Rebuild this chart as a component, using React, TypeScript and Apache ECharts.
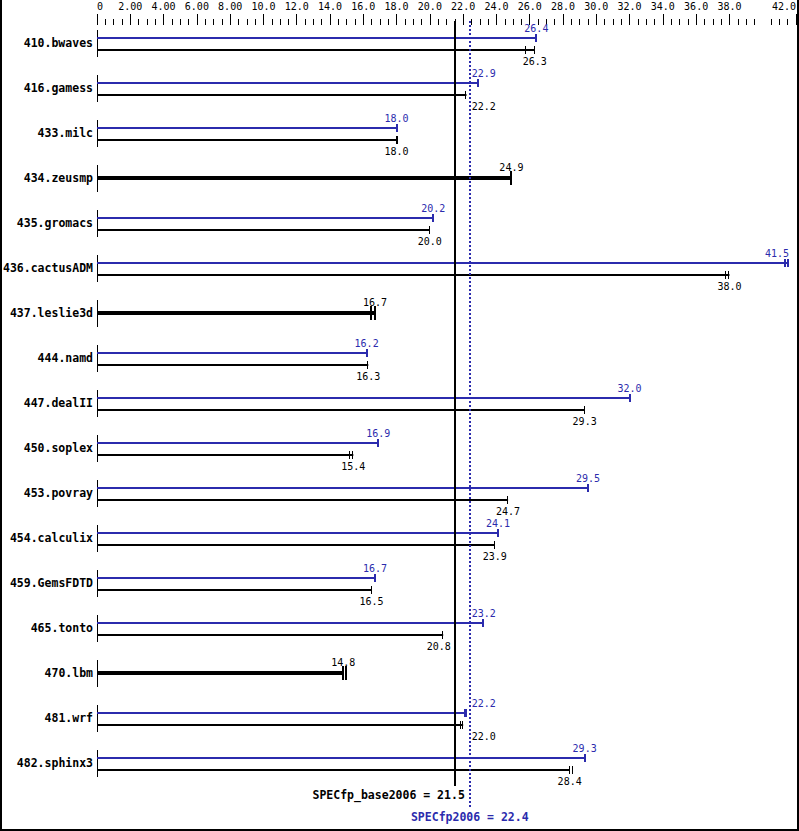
import React, { useEffect, useRef } from 'react';
import * as echarts from 'echarts';

const benchmarks = [
  '410.bwaves', '416.gamess', '433.milc', '434.zeusmp', '435.gromacs', '436.cactusADM',
  '437.leslie3d', '444.namd', '447.dealII', '450.soplex', '453.povray', '454.calculix',
  '459.GemsFDTD', '465.tonto', '470.lbm', '481.wrf', '482.sphinx3',
];
// peak (blue) ratios; null = no peak run (base only)
const peakScores = [26.4, 22.9, 18.0, null, 20.2, 41.5, null, 16.2, 32.0, 16.9, 29.5, 24.1, 16.7, 23.2, null, 22.2, 29.3];
// base (black) ratios
const baseScores = [26.3, 22.2, 18.0, 24.9, 20.0, 38.0, 16.7, 16.3, 29.3, 15.4, 24.7, 23.9, 16.5, 20.8, 14.8, 22.0, 28.4];
// other individual runs shown as extra tick marks
const peakOtherRun = [null, null, null, null, null, 41.35, null, null, null, null, null, null, null, null, null, 22.1, null];
const baseOtherRun = [25.8, null, 18.1, null, null, 37.8, 16.45, null, null, 15.2, null, null, null, null, 14.95, 21.85, 28.6];

const SPECfp_base2006 = 21.5;
const SPECfp2006 = 22.4;
const tickValues = [0, 2, 4, 6, 8, 10, 12, 14, 16, 18, 20, 22, 24, 26, 28, 30, 32, 34, 36, 38, 42];

const BLUE = '#2b2bad';
const MONO = '"DejaVu Sans Mono", "Liberation Mono", monospace';
const CHAR_W = 6.02;

type Kind = 'peak' | 'base' | 'baseOnly';

function makeRender(kind: Kind) {
  return (params: any, api: any) => {
    const v = api.value(0);
    const cat = api.value(1);
    const other = api.value(2);
    const [x0, yc] = api.coord([0, cat]);
    const [x1] = api.coord([v, cat]);
    const cs = params.coordSys;
    const baseX = api.coord([SPECfp_base2006, cat])[0];
    const peakX = api.coord([SPECfp2006, cat])[0];
    const color = kind === 'peak' ? BLUE : '#000';
    let y: number, lw: number, tw: number, th: number, labelY: number;
    if (kind === 'peak') {
      y = Math.round(yc - 5); lw = 2; tw = 2; th = 4; labelY = y - 10;
    } else if (kind === 'base') {
      y = Math.round(yc + 7); lw = 2; tw = 1; th = 4; labelY = y + 11.5;
    } else {
      y = Math.round(yc); lw = 4; tw = 2; th = 7; labelY = y - 11;
    }
    const children: any[] = [];
    if (kind !== 'peak') {
      children.push({
        type: 'line',
        shape: { x1: x0 + 0.5, y1: yc - 12.5, x2: x0 + 0.5, y2: yc + 14.5 },
        style: { stroke: '#000', lineWidth: 1 },
      });
    }
    children.push({
      type: 'line',
      shape: { x1: x0, y1: y, x2: x1, y2: y },
      style: { stroke: color, lineWidth: lw },
    });
    const tickAt = (x: number) => {
      const xx = tw === 1 ? Math.round(x) - 0.5 : Math.round(x);
      children.push({
        type: 'line',
        shape: { x1: xx, y1: y - th, x2: xx, y2: y + th },
        style: { stroke: color, lineWidth: tw },
      });
    };
    tickAt(x1);
    if (other != null && isFinite(other)) tickAt(api.coord([other, cat])[0]);
    const text = v.toFixed(1);
    const w = text.length * CHAR_W;
    let left = x1 - w / 2;
    const lines = [baseX, peakX];
    const overlap = lines.some((L) => L >= left - 2 && L <= left + w + 2);
    if (overlap) {
      if (x1 < baseX - 4) left = baseX - 4 - w;
      else left = Math.max(baseX, peakX) + 2;
    }
    const maxRight = cs.x + cs.width - 7;
    if (left + w > maxRight) left = maxRight - w;
    children.push({
      type: 'text',
      style: {
        text, x: left, y: labelY, fill: color,
        fontSize: 10, fontFamily: MONO,
        align: 'left', verticalAlign: 'middle',
      },
    });
    return { type: 'group', children };
  };
}

function renderMeans(params: any, api: any) {
  const cs = params.coordSys;
  const bx = api.coord([SPECfp_base2006, 0])[0];
  const px = api.coord([SPECfp2006, 0])[0];
  return {
    type: 'group',
    children: [
      {
        type: 'line',
        shape: { x1: Math.round(bx), y1: cs.y + 1, x2: Math.round(bx), y2: cs.y + cs.height + 1 },
        style: { stroke: '#000', lineWidth: 2 },
      },
      {
        type: 'line',
        shape: { x1: Math.round(px), y1: cs.y + 1, x2: Math.round(px), y2: 808 },
        style: { stroke: BLUE, lineWidth: 2, lineDash: [2, 2] },
      },
      {
        type: 'text',
        style: {
          text: 'SPECfp_base2006 = ' + SPECfp_base2006.toFixed(1),
          x: bx + 10, y: 795, fill: '#000',
          fontSize: 11.5, fontWeight: 'bold', fontFamily: MONO,
          align: 'right', verticalAlign: 'middle',
        },
      },
      {
        type: 'text',
        style: {
          text: 'SPECfp2006 = ' + SPECfp2006.toFixed(1),
          x: px, y: 817, fill: BLUE,
          fontSize: 11.5, fontWeight: 'bold', fontFamily: MONO,
          align: 'center', verticalAlign: 'middle',
        },
      },
    ],
  };
}

const peakData: any[] = [];
const baseData: any[] = [];
const baseOnlyData: any[] = [];
benchmarks.forEach((_, i) => {
  const p = peakScores[i];
  const b = baseScores[i];
  if (p == null) {
    baseOnlyData.push([b, i, baseOtherRun[i] ?? NaN]);
  } else {
    peakData.push([p, i, peakOtherRun[i] ?? NaN]);
    baseData.push([b, i, baseOtherRun[i] ?? NaN]);
  }
});

function fmtTick(v: number) {
  if (v === 0) return '0';
  if (v < 10) return v.toFixed(2);
  return v.toFixed(1);
}

export default function App() {
  const ref = useRef<HTMLDivElement>(null);
  useEffect(() => {
    document.body.style.margin = '0';
    const chart = echarts.init(ref.current!, null, { renderer: 'svg' });
    chart.setOption({
      animation: false,
      backgroundColor: '#fff',
      grid: { left: 97, right: 2, top: 20, height: 765, containLabel: false },
      xAxis: {
        type: 'value',
        position: 'top',
        min: 0,
        max: 42,
        interval: 2,
        offset: -5,
        axisLine: { show: false },
        splitLine: { show: false },
        axisTick: {
          show: true, length: 11, inside: false,
          customValues: tickValues,
          lineStyle: { color: '#000', width: 1 },
        },
        minorTick: { show: true, splitNumber: 4, length: 6, lineStyle: { color: '#000', width: 1 } },
        axisLabel: {
          customValues: tickValues,
          formatter: (v: number) => fmtTick(v),
          margin: 14,
          color: '#000',
          fontSize: 10,
          fontFamily: MONO,
          alignMinLabel: 'left',
          alignMaxLabel: 'right',
        },
      },
      yAxis: {
        type: 'category',
        data: benchmarks,
        inverse: true,
        axisLine: { show: false },
        axisTick: { show: false },
        splitLine: { show: false },
        axisLabel: {
          margin: 4,
          color: '#000',
          fontSize: 11.5,
          fontWeight: 'bold',
          fontFamily: MONO,
        },
      },
      series: [
        { type: 'custom', name: 'base', renderItem: makeRender('base'), data: baseData, z: 2 },
        { type: 'custom', name: 'baseOnly', renderItem: makeRender('baseOnly'), data: baseOnlyData, z: 2 },
        { type: 'custom', name: 'peak', renderItem: makeRender('peak'), data: peakData, z: 3 },
        { type: 'custom', name: 'means', renderItem: renderMeans, data: [[0, 0]], z: 5, clip: false },
      ],
      graphic: [
        { type: 'line', shape: { x1: 1, y1: 0, x2: 1, y2: 831 }, style: { stroke: '#000', lineWidth: 2 } },
        { type: 'line', shape: { x1: 798, y1: 0, x2: 798, y2: 831 }, style: { stroke: '#000', lineWidth: 2 } },
        { type: 'line', shape: { x1: 0, y1: 830, x2: 799, y2: 830 }, style: { stroke: '#000', lineWidth: 2 } },
      ],
    });
    return () => chart.dispose();
  }, []);
  return <div ref={ref} style={{ width: 799, height: 831 }} />;
}
